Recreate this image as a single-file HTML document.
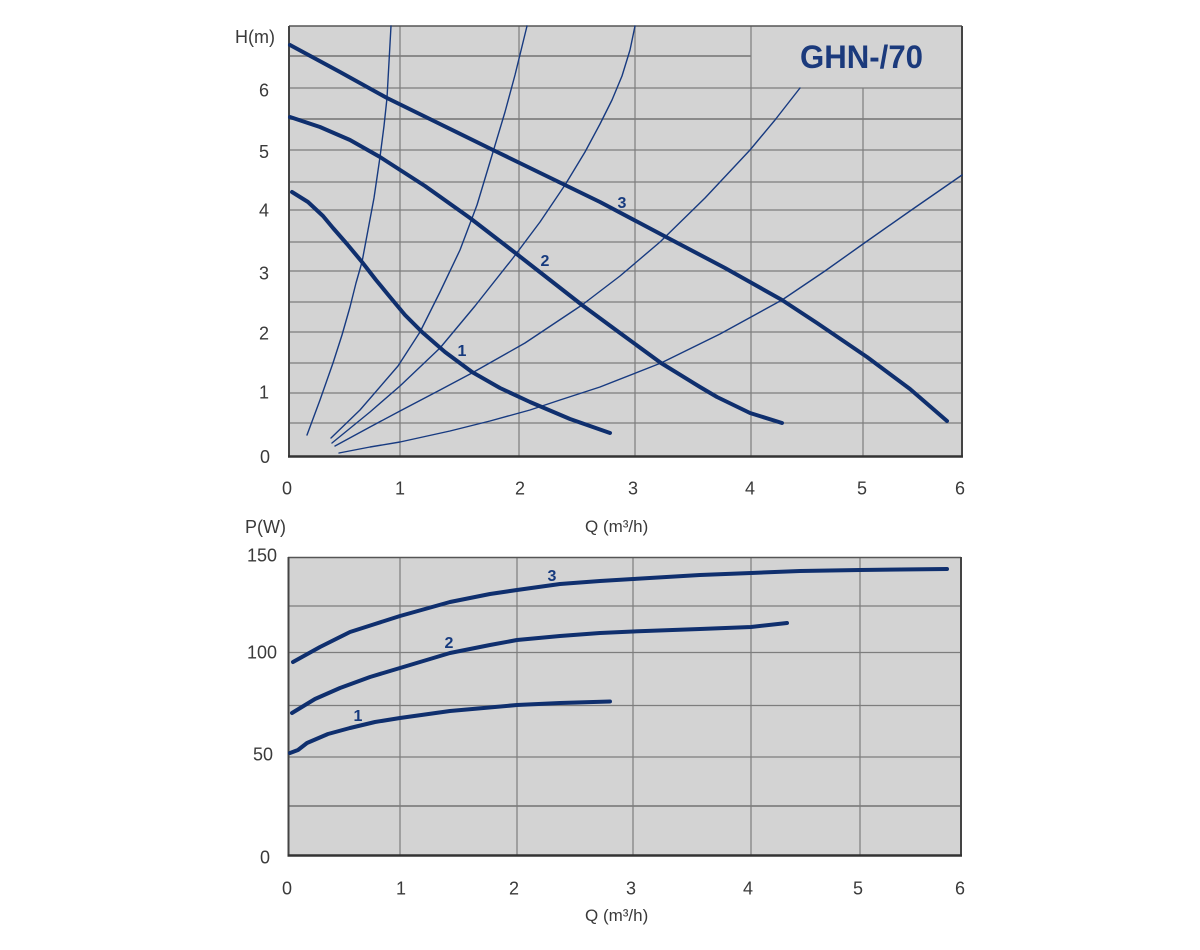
<!DOCTYPE html>
<html>
<head>
<meta charset="utf-8">
<style>
  html, body { margin:0; padding:0; background:#ffffff; }
  svg { display:block; }
  text { font-family: "Liberation Sans", Arial, sans-serif; }
</style>
</head>
<body>
<svg width="1200" height="950" viewBox="0 0 1200 950" xmlns="http://www.w3.org/2000/svg">
  <rect x="0" y="0" width="1200" height="950" fill="#ffffff"/>

  <!-- ================= TOP CHART ================= -->
  <rect x="289" y="26" width="673" height="430" fill="#d3d3d3"/>
  <g stroke="#7d7d7d" stroke-width="1.2" fill="none">
    <!-- horizontal grid -->
    <line x1="289" y1="56" x2="751" y2="56" stroke-width="2" stroke="#8a8a8a"/>
    <line x1="289" y1="88" x2="962" y2="88"/>
    <line x1="289" y1="119" x2="962" y2="119" stroke-width="2" stroke="#8a8a8a"/>
    <line x1="289" y1="150" x2="962" y2="150"/>
    <line x1="289" y1="182" x2="962" y2="182"/>
    <line x1="289" y1="210" x2="962" y2="210"/>
    <line x1="289" y1="242" x2="962" y2="242"/>
    <line x1="289" y1="271" x2="962" y2="271"/>
    <line x1="289" y1="302" x2="962" y2="302"/>
    <line x1="289" y1="332" x2="962" y2="332"/>
    <line x1="289" y1="363" x2="962" y2="363"/>
    <line x1="289" y1="393" x2="962" y2="393"/>
    <line x1="289" y1="423" x2="962" y2="423"/>
    <!-- vertical grid -->
    <line x1="400" y1="26" x2="400" y2="456"/>
    <line x1="519" y1="26" x2="519" y2="456"/>
    <line x1="635" y1="26" x2="635" y2="456"/>
    <line x1="751" y1="26" x2="751" y2="456"/>
    <line x1="863" y1="88" x2="863" y2="456"/>
  </g>
  <!-- frame -->
  <g fill="none">
    <line x1="289" y1="26" x2="962" y2="26" stroke="#555" stroke-width="1.5"/>
    <line x1="289" y1="26" x2="289" y2="457" stroke="#444" stroke-width="2"/>
    <line x1="962" y1="26" x2="962" y2="457" stroke="#444" stroke-width="2"/>
    <line x1="288" y1="456.5" x2="963" y2="456.5" stroke="#333" stroke-width="2.5"/>
  </g>

  <!-- system curves (thin) -->
  <g stroke="#173a80" stroke-width="1.4" fill="none" stroke-linejoin="round" stroke-linecap="round">
    <polyline points="307,435 320,400 333,363 342,335 350,307 356,283 362,262 368,230 374,198 380,157 384,126 387,98 389,62 391,26"/>
    <polyline points="331,438 360,410 398,366 420,332 440,292 460,250 477,205 493,152 505,112 515,75 527,26"/>
    <polyline points="332,443 370,412 400,386 440,348 475,306 513,258 540,222 565,185 585,152 600,124 612,100 622,76 630,50 635,26"/>
    <polyline points="335,446 370,427 400,411 440,390 472,373 525,343 582,305 620,276 660,242 705,198 750,150 775,120 800,88"/>
    <polyline points="339,453 370,447 400,442 450,431 490,421 530,410 560,400 600,387 661,363 720,334 782,300 825,271 863,244 910,211 962,175"/>
  </g>

  <!-- pump curves (thick) -->
  <g stroke="#0f2f6e" stroke-width="4" fill="none" stroke-linejoin="round" stroke-linecap="round">
    <polyline points="290,45 340,72 387,98 440,124 493,150 565,185 600,202 668,238 725,268 782,300 817,323 867,357 910,389 947,421"/>
    <polyline points="290,117 320,127 350,140 380,157 425,186 470,218 518,255 550,280 582,305 620,333 661,363 700,387 717,397 750,413 782,423"/>
    <polyline points="292,192 308,202 323,216 333,228 347,244 362,262 376,280 390,297 405,315 422,332 445,352 472,372 500,388 530,402 570,419 610,433"/>
  </g>

  <!-- curve labels -->
  <g fill="#163a7e" font-weight="bold" font-size="16">
    <text x="622" y="208" text-anchor="middle">3</text>
    <text x="545" y="266" text-anchor="middle">2</text>
    <text x="462" y="356" text-anchor="middle">1</text>
  </g>

  <!-- title -->
  <text x="800" y="68" font-size="32" font-weight="bold" fill="#1b3a7c" textLength="123" lengthAdjust="spacingAndGlyphs">GHN-/70</text>

  <!-- axis labels top -->
  <g fill="#3a3a3a" font-size="18">
    <text x="235" y="43">H(m)</text>
    <text x="269" y="96.5" text-anchor="end">6</text>
    <text x="269" y="158" text-anchor="end">5</text>
    <text x="269" y="216.5" text-anchor="end">4</text>
    <text x="269" y="279.5" text-anchor="end">3</text>
    <text x="269" y="339.5" text-anchor="end">2</text>
    <text x="269" y="398.5" text-anchor="end">1</text>
    <text x="270" y="463" text-anchor="end">0</text>

    <text x="287" y="494.5" text-anchor="middle">0</text>
    <text x="400" y="494.5" text-anchor="middle">1</text>
    <text x="520" y="494.5" text-anchor="middle">2</text>
    <text x="633" y="494.5" text-anchor="middle">3</text>
    <text x="750" y="494.5" text-anchor="middle">4</text>
    <text x="862" y="494.5" text-anchor="middle">5</text>
    <text x="960" y="494.5" text-anchor="middle">6</text>

    <text x="585" y="532" font-size="17">Q (m³/h)</text>
  </g>

  <!-- ================= BOTTOM CHART ================= -->
  <rect x="288.5" y="557.5" width="672.5" height="298" fill="#d3d3d3"/>
  <g stroke="#7d7d7d" stroke-width="1.2" fill="none">
    <line x1="288" y1="606" x2="961" y2="606"/>
    <line x1="288" y1="652.5" x2="961" y2="652.5"/>
    <line x1="288" y1="705.5" x2="961" y2="705.5"/>
    <line x1="288" y1="757" x2="961" y2="757"/>
    <line x1="288" y1="806" x2="961" y2="806" stroke-width="2" stroke="#8a8a8a"/>
    <line x1="400" y1="557.5" x2="400" y2="856"/>
    <line x1="517" y1="557.5" x2="517" y2="856"/>
    <line x1="633" y1="557.5" x2="633" y2="856"/>
    <line x1="751" y1="557.5" x2="751" y2="856"/>
    <line x1="860" y1="557.5" x2="860" y2="856"/>
  </g>
  <g fill="none">
    <line x1="288" y1="557.5" x2="961" y2="557.5" stroke="#555" stroke-width="1.5"/>
    <line x1="288.5" y1="557" x2="288.5" y2="856" stroke="#444" stroke-width="2"/>
    <line x1="961" y1="557" x2="961" y2="856" stroke="#444" stroke-width="2"/>
    <line x1="287.5" y1="855.5" x2="962" y2="855.5" stroke="#333" stroke-width="2.5"/>
  </g>

  <g stroke="#0f2f6e" stroke-width="4" fill="none" stroke-linejoin="round" stroke-linecap="round">
    <polyline points="293,662 320,647 350,632 375,624 400,616 450,602 490,594 517,590 560,584 600,581 633,579 700,575 751,573 800,571 860,570 947,569"/>
    <polyline points="292,713 315,699 340,688 370,677 400,668 450,653 490,645 517,640 560,636 600,633 633,631.5 700,629 751,627 787,623"/>
    <polyline points="290,753 298,750 307,743 328,734 350,728 375,722 400,718 450,711 517,705 560,703 610,701.5"/>
  </g>

  <g fill="#163a7e" font-weight="bold" font-size="16">
    <text x="552" y="581" text-anchor="middle">3</text>
    <text x="449" y="648" text-anchor="middle">2</text>
    <text x="358" y="721" text-anchor="middle">1</text>
  </g>

  <g fill="#3a3a3a" font-size="18">
    <text x="245" y="533">P(W)</text>
    <text x="277" y="561.5" text-anchor="end">150</text>
    <text x="277" y="658.5" text-anchor="end">100</text>
    <text x="273" y="760.5" text-anchor="end">50</text>
    <text x="270" y="863.5" text-anchor="end">0</text>

    <text x="287" y="894.5" text-anchor="middle">0</text>
    <text x="401" y="894.5" text-anchor="middle">1</text>
    <text x="514" y="894.5" text-anchor="middle">2</text>
    <text x="631" y="894.5" text-anchor="middle">3</text>
    <text x="748" y="894.5" text-anchor="middle">4</text>
    <text x="858" y="894.5" text-anchor="middle">5</text>
    <text x="960" y="894.5" text-anchor="middle">6</text>

    <text x="585" y="921" font-size="17">Q (m³/h)</text>
  </g>
</svg>
</body>
</html>
